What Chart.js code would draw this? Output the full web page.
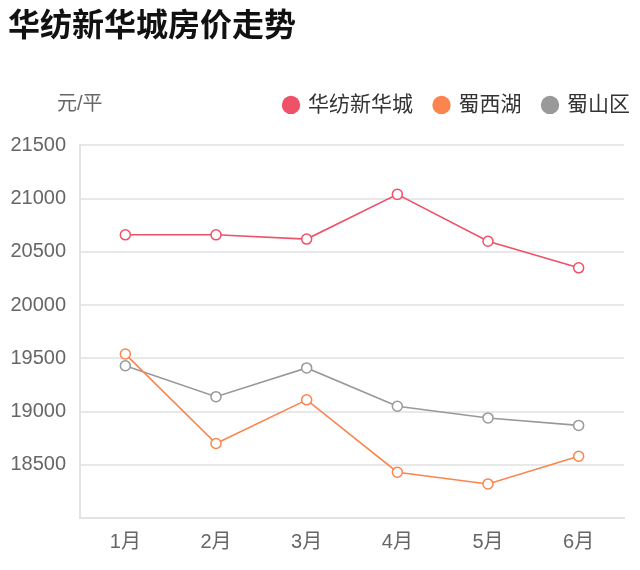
<!DOCTYPE html>
<html>
<head>
<meta charset="utf-8">
<script src="https://cdn.jsdelivr.net/npm/chart.js@4/dist/chart.umd.min.js"></script>
<style>
  html, body { margin: 0; padding: 0; background: #fff; }
  #wrap { width: 640px; height: 570px; }
</style>
</head>
<body>
<div id="wrap"><canvas id="c"></canvas></div>
<script>
const months = ['1月', '2月', '3月', '4月', '5月', '6月'];
const huafang = [20660, 20660, 20620, 21040, 20600, 20350];
const shuxihu = [19540, 18700, 19110, 18430, 18320, 18580];
const shushan = [19430, 19140, 19410, 19050, 18940, 18870];

const FONT = '"Liberation Sans", "Noto Sans CJK SC", sans-serif';
const GREY = '#666';

// legend sits lower than the title; push the plot down a bit
const legendMargin = {
    id: 'legendMargin',
    beforeInit(chart) {
        const fit = chart.legend.fit;
        chart.legend.fit = function() {
            fit.bind(chart.legend)();
            this.height += 20;
        };
    },
    afterLayout(chart) {
        // legend runs past the plot's right edge in the original
        chart.legend.left += 28;
        chart.legend.right += 28;
    }
};

// unit label in the top-left corner, same row as legend
const unitLabel = {
    id: 'unitLabel',
    afterDraw(chart) {
        const ctx = chart.ctx;
        const lg = chart.legend;
        const y = lg.legendHitBoxes.length ? lg.legendHitBoxes[0].top + lg.legendHitBoxes[0].height / 2 : 103;
        ctx.save();
        ctx.font = '20px ' + FONT;
        ctx.fillStyle = GREY;
        ctx.textBaseline = 'middle';
        ctx.textAlign = 'left';
        ctx.fillText('元/平', 57, y);
        ctx.restore();
    }
};

const mk = (label, data, color) => ({
    label: label,
    data: data,
    borderColor: color,
    backgroundColor: color,
    borderWidth: 1.6,
    pointRadius: 5,
    pointHoverRadius: 5,
    pointBorderWidth: 1.5,
    pointBackgroundColor: '#fff',
    pointBorderColor: color,
    tension: 0,
    fill: false
});

new Chart(document.getElementById('c').getContext('2d'), {
    type: 'line',
    data: {
        labels: months,
        datasets: [
            mk('华纺新华城', huafang, '#ef5169'),
            mk('蜀西湖', shuxihu, '#fb844f'),
            mk('蜀山区', shushan, '#999999')
        ]
    },
    options: {
        responsive: true,
        maintainAspectRatio: false,
        animation: false,
        layout: { padding: { left: 8, right: 16, bottom: 4 } },
        plugins: {
            title: {
                display: true,
                text: '华纺新华城房价走势',
                align: 'start',
                color: '#111',
                font: { family: FONT, size: 32, weight: 'bold' },
                padding: { top: 8, bottom: 26 }
            },
            legend: {
                position: 'top',
                align: 'end',
                labels: {
                    usePointStyle: true,
                    pointStyle: 'circle',
                    boxWidth: 13,
                    boxHeight: 13,
                    padding: 22,
                    color: '#333',
                    font: { family: FONT, size: 21 },
                    generateLabels(chart) {
                        const items = Chart.defaults.plugins.legend.labels.generateLabels(chart);
                        items.forEach((it, i) => {
                            const col = chart.data.datasets[i].borderColor;
                            it.fillStyle = col;
                            it.strokeStyle = col;
                            it.lineWidth = 0;
                        });
                        return items;
                    }
                }
            },
            tooltip: { enabled: false }
        },
        scales: {
            x: {
                offset: true,
                grid: { display: false, drawTicks: false },
                border: { display: true, color: '#e3e3e3', width: 2 },
                ticks: { color: GREY, padding: 12, font: { family: FONT, size: 20 } }
            },
            y: {
                min: 18000,
                max: 21500,
                afterFit: scale => { scale.width = 72; },
                grid: { color: '#e8e8e8', lineWidth: 2, drawTicks: false },
                border: { display: true, color: '#e3e3e3', width: 2 },
                ticks: {
                    stepSize: 500,
                    color: GREY,
                    padding: 14,
                    font: { family: FONT, size: 20 },
                    callback: v => v === 18000 ? '' : String(v)
                }
            }
        }
    },
    plugins: [legendMargin, unitLabel]
});
</script>
</body>
</html>
